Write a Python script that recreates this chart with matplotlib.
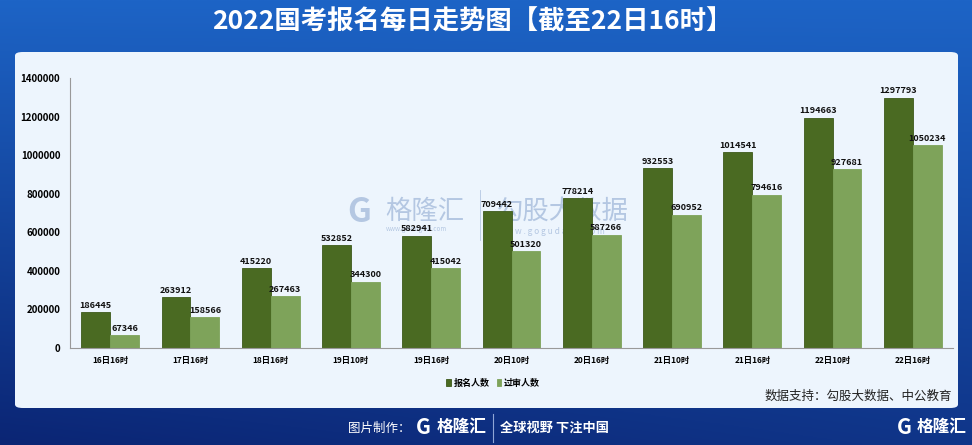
import matplotlib
matplotlib.use("Agg")
import matplotlib.pyplot as plt
import matplotlib.patches as mpatches
import numpy as np

plt.rcParams["font.family"] = ["Noto Sans CJK SC", "DejaVu Sans"]

# --- data ---
categories = ["16日16时", "17日16时", "18日16时", "19日10时", "19日16时", "20日10时",
              "20日16时", "21日10时", "21日16时", "22日10时", "22日16时"]
signup = [186445, 263912, 415220, 532852, 582941, 709442,
          778214, 932553, 1014541, 1194663, 1297793]
approved = [67346, 158566, 267463, 344300, 415042, 501320,
            587266, 690952, 794616, 927681, 1050234]
yticks = [0, 200000, 400000, 600000, 800000, 1000000, 1200000, 1400000]

DARK = "#4a6a22"
LIGHT = "#7ea35a"
W, H = 972, 445

fig = plt.figure(figsize=(W / 100, H / 100), dpi=100)

# --- blue gradient background ---
bg = fig.add_axes([0, 0, 1, 1], zorder=0)
bg.axis("off")
yy, xx = np.mgrid[0:1:200j, 0:1:200j]
t = 0.75 * yy + 0.25 * (1 - xx) * yy
top = np.array([0x1d, 0x64, 0xc6]) / 255
bot = np.array([0x0b, 0x25, 0x74]) / 255
grad = top[None, None, :] * (1 - t[..., None]) + bot[None, None, :] * t[..., None]
bg.imshow(grad, aspect="auto", extent=[0, 1, 0, 1], origin="upper")
bg.set_xlim(0, 1)
bg.set_ylim(0, 1)

# panel
panel = mpatches.FancyBboxPatch((15 / W, 1 - 408 / H), (958 - 15) / W, (408 - 52) / H,
                                boxstyle="round,pad=0,rounding_size=0.008",
                                transform=fig.transFigure, facecolor="#edf5fd",
                                edgecolor="none", zorder=1)
fig.patches.append(panel)

fig.text(472 / W, 1 - 22 / H, "2022国考报名每日走势图【截至22日16时】", color="white",
         fontsize=19, fontweight="bold", ha="center", va="center")

# faint watermarks, behind the chart
wm = "#b4c7e2"
fig.text(347 / W, 1 - 213 / H, "G", fontsize=24, fontweight="bold", color=wm,
         ha="left", va="center", zorder=1.5)
fig.text(385 / W, 1 - 211 / H, "格隆汇", fontsize=19, color=wm,
         ha="left", va="center", zorder=1.5)
fig.text(386 / W, 1 - 229 / H, "www.gelonghui.com", fontsize=4.5, color=wm,
         ha="left", va="center", zorder=1.5)
fig.add_artist(plt.Line2D([480 / W, 480 / W], [1 - 190 / H, 1 - 240 / H], color=wm,
                          linewidth=0.6, transform=fig.transFigure, zorder=1.5))
fig.text(497 / W, 1 - 211 / H, "勾股大数据", fontsize=19, color=wm,
         ha="left", va="center", zorder=1.5)
fig.text(498 / W, 1 - 231 / H, "w w w . g o g u d a t a . c o m", fontsize=6, color=wm,
         ha="left", va="center", zorder=1.5)

# --- bar chart ---
ax = fig.add_axes([70 / W, 1 - 348 / H, (953 - 70) / W, (348 - 78) / H], zorder=2)
ax.set_facecolor("none")
x = np.arange(len(categories))
bw = 0.36
b1 = ax.bar(x - bw / 2, signup, bw, color=DARK, edgecolor="#3d5a1a", linewidth=0.6, label="报名人数")
b2 = ax.bar(x + bw / 2, approved, bw, color=LIGHT, edgecolor="#7ea35a", linewidth=0.6, label="过审人数")
for xi, v in zip(x, signup):
    ax.text(xi - bw / 2, v + 12000, str(v), ha="center", va="bottom", fontsize=6.5,
            fontweight="bold", color="#111111")
for xi, v in zip(x, approved):
    ax.text(xi + bw / 2, v + 12000, str(v), ha="center", va="bottom", fontsize=6.5,
            fontweight="bold", color="#111111")

ax.set_xlim(-0.5, 10.5)
ax.set_ylim(0, 1400000)
ax.set_yticks(yticks)
ax.set_yticklabels([str(v) for v in yticks], fontsize=7, fontweight="bold")
ax.set_xticks(x)
ax.set_xticklabels(categories, fontsize=6, fontweight="bold")
ax.tick_params(length=0, pad=6)
ax.tick_params(axis="y", pad=7)
for s in ["top", "right"]:
    ax.spines[s].set_visible(False)
ax.spines["left"].set_color("#999999")
ax.spines["bottom"].set_color("#999999")

fig.legend(handles=[b1, b2], loc="center", bbox_to_anchor=(493 / W, 1 - 383 / H), ncol=2,
           frameon=False, handlelength=0.5, handleheight=0.8,
           handletextpad=0.3, columnspacing=0.8, prop={"weight": "bold", "size": 6.5})

fig.text(952 / W, 1 - 396 / H, "数据支持：勾股大数据、中公教育", fontsize=9,
         ha="right", va="center", color="#222222")

# footer
fig.text(410 / W, 1 - 428 / H, "图片制作：", fontsize=9, color="white", ha="right", va="center")
fig.text(416 / W, 1 - 428 / H, "G", fontsize=15, fontweight="bold", color="white",
         ha="left", va="center")
fig.text(437 / W, 1 - 427 / H, "格隆汇", fontsize=12, fontweight="bold", color="white",
         ha="left", va="center")
fig.add_artist(plt.Line2D([493 / W, 493 / W], [1 - 414 / H, 1 - 442 / H], color="#8fa6d6",
                          linewidth=0.8, transform=fig.transFigure))
fig.text(500 / W, 1 - 428 / H, "全球视野 下注中国", fontsize=9.5, fontweight="bold",
         color="white", ha="left", va="center")
fig.text(897 / W, 1 - 428 / H, "G", fontsize=15, fontweight="bold", color="white",
         ha="left", va="center")
fig.text(917 / W, 1 - 427 / H, "格隆汇", fontsize=12, fontweight="bold", color="white",
         ha="left", va="center")

fig.savefig("out.png", dpi=100)
